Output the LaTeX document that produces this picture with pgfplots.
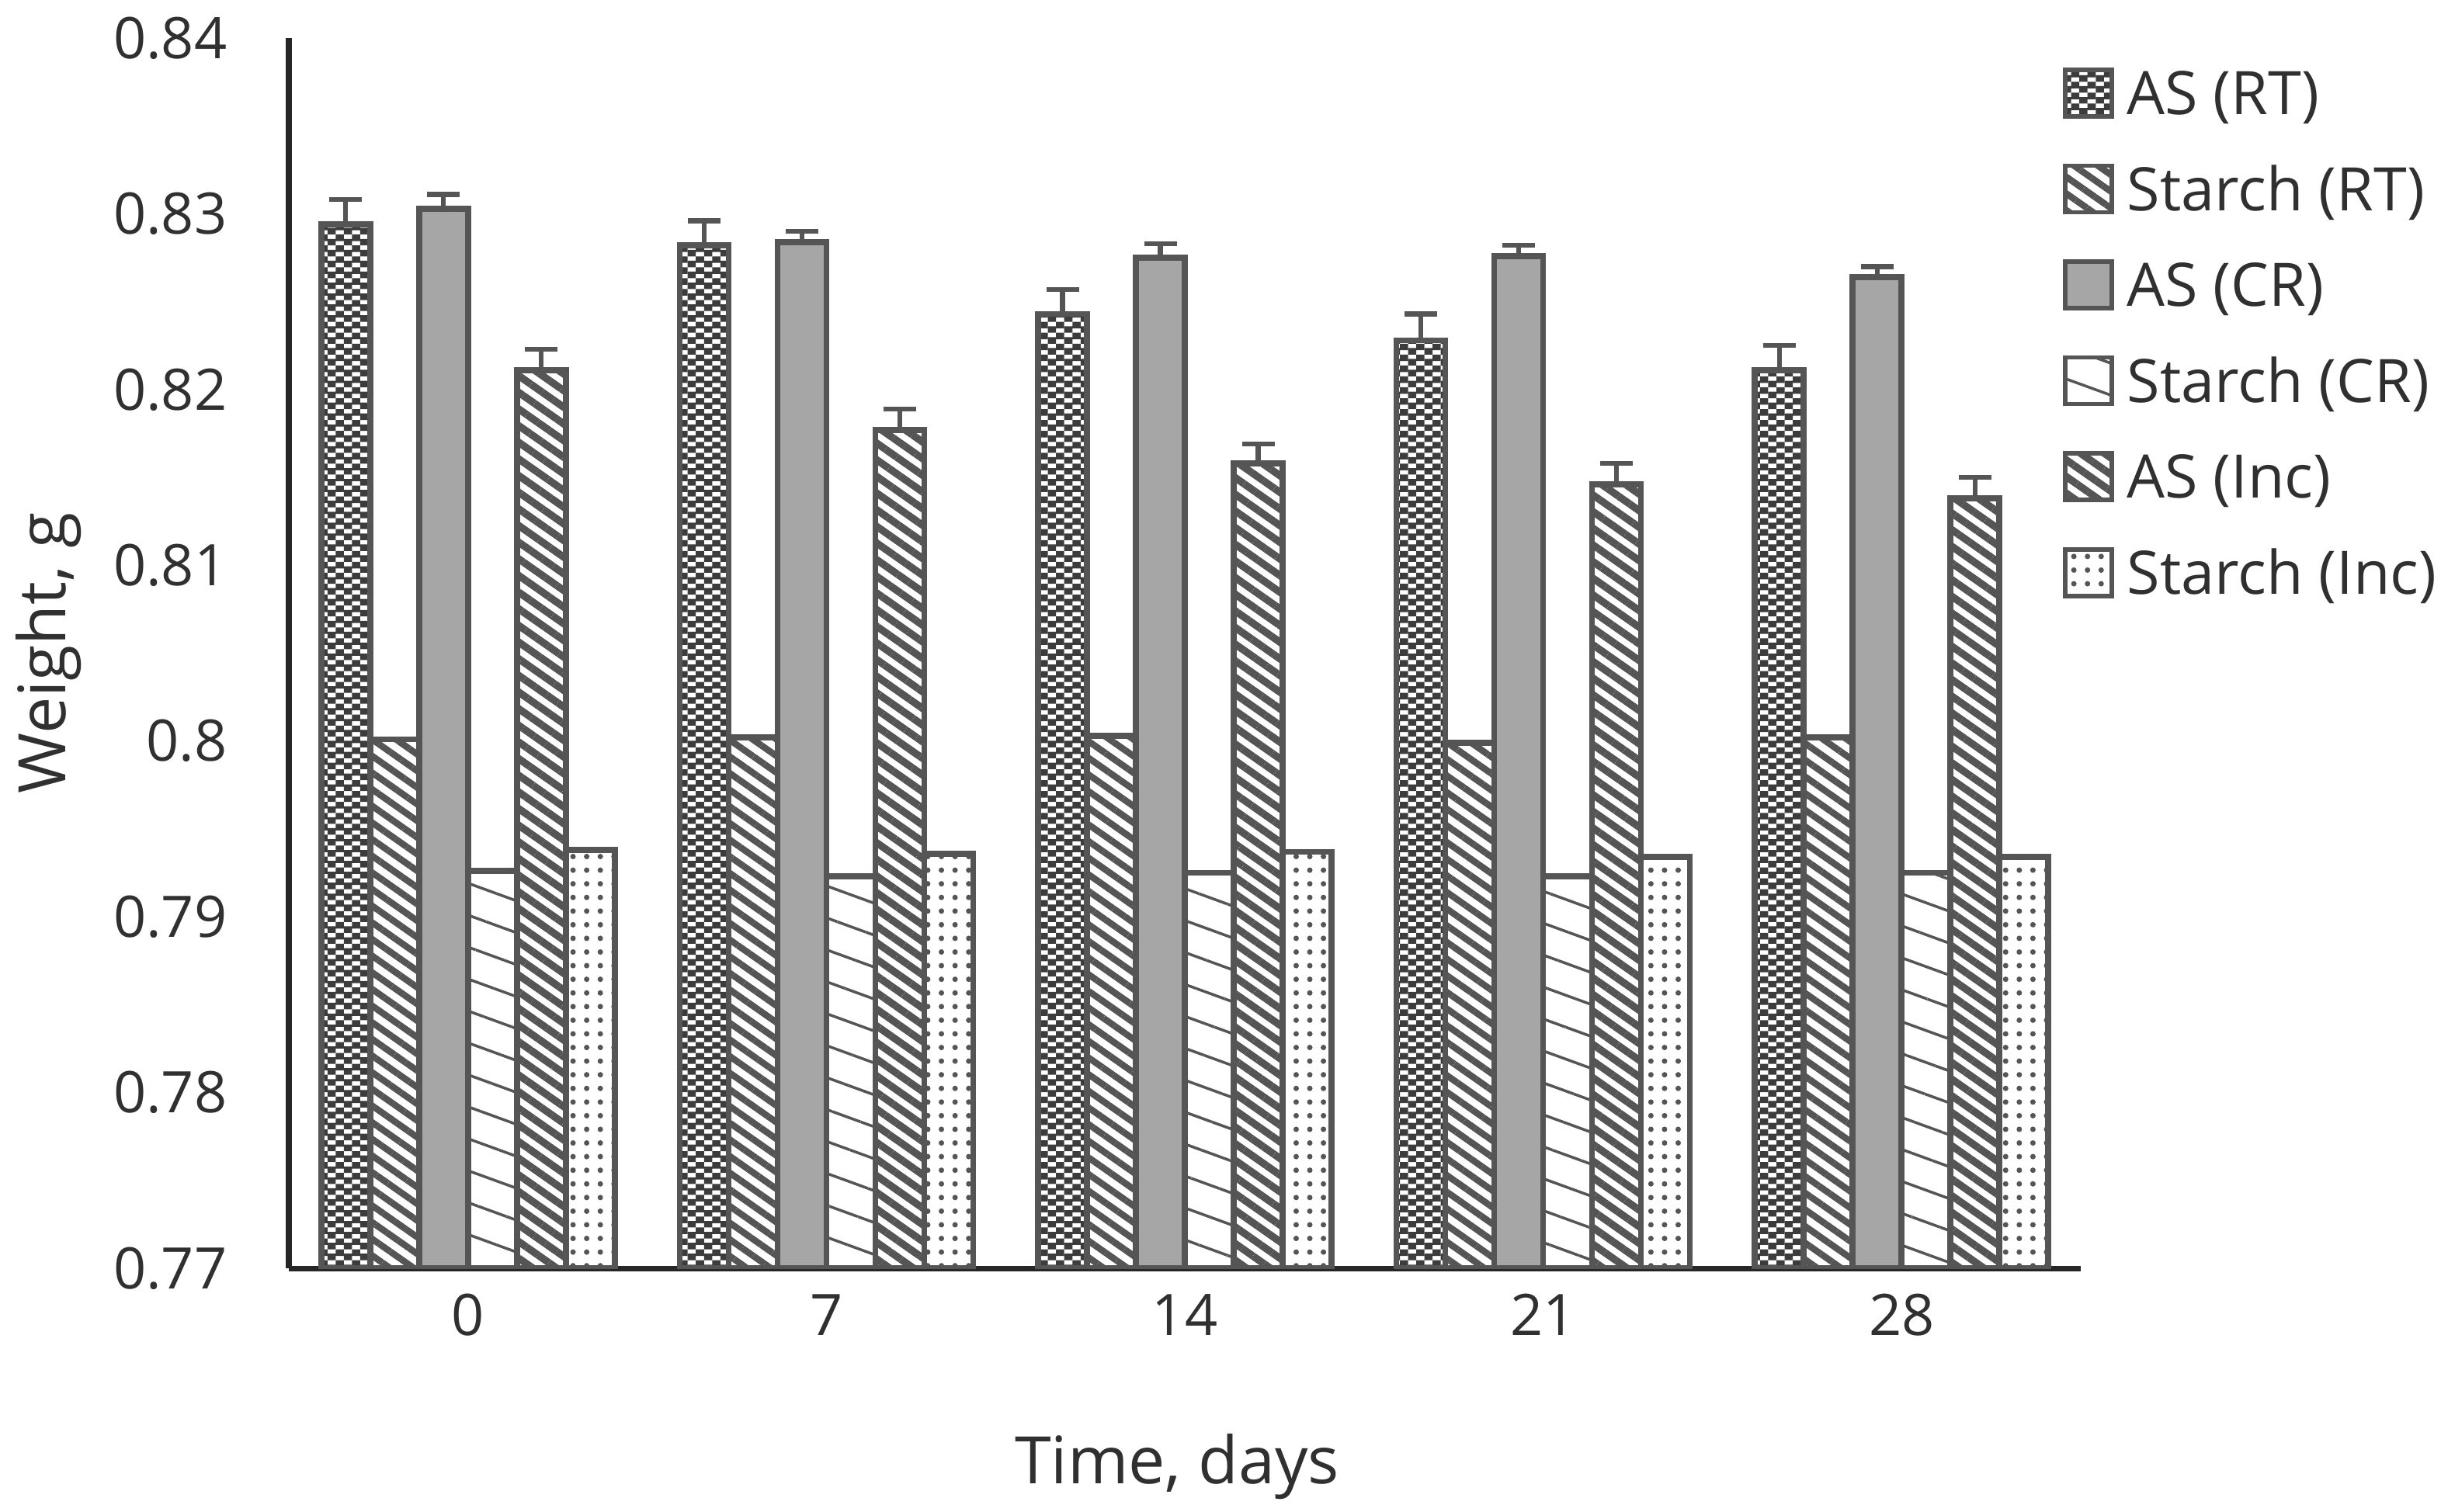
\documentclass[border=0pt]{standalone}
\usepackage{fontspec}
\setmainfont{Open Sans}
\usepackage{pgfplots}
\pgfplotsset{compat=1.18}
\usetikzlibrary{patterns,patterns.meta}
\definecolor{bard}{HTML}{555555}
\definecolor{chk}{HTML}{3C3C3C}
\definecolor{crfill}{HTML}{A6A6A6}
\definecolor{txt}{HTML}{303030}
\definecolor{axl}{HTML}{262626}
\pgfdeclarepatternformonly{smallcheck}{\pgfqpoint{-0.1pt}{-0.1pt}}{\pgfqpoint{6.1pt}{4.1pt}}{\pgfqpoint{6pt}{4pt}}{%
  \pgfpathrectangle{\pgfqpoint{0pt}{0pt}}{\pgfqpoint{3pt}{2pt}}%
  \pgfpathrectangle{\pgfqpoint{3pt}{2pt}}{\pgfqpoint{3pt}{2pt}}%
  \pgfpathrectangle{\pgfqpoint{0pt}{1.6pt}}{\pgfqpoint{6pt}{0.8pt}}%
  \pgfusepath{fill}}
\pgfplotsset{
  errs/.style={error bars/.cd, y dir=plus, y explicit,
    error bar style={line width=1.8pt, draw=bard},
    error mark options={rotate=90, line width=1.8pt, mark size=0.21cm, draw=bard}},
  barst/.style={draw=bard, line width=2.2pt},
}
\begin{document}
\begin{tikzpicture}
\path[use as bounding box] (0,0) rectangle (31.44cm,19.47cm);
\begin{axis}[
  at={(3.72cm,3.13cm)}, anchor=south west,
  scale only axis, width=23.08cm, height=15.85cm,
  xmin=-0.5, xmax=4.5, ymin=0.77, ymax=0.84,
  axis lines=left,
  axis line style={-, draw=axl, line width=2pt},
  ytick={0.77,0.78,0.79,0.8,0.81,0.82,0.83,0.84},
  xtick={0,1,2,3,4}, xticklabels={0,7,14,21,28},
  major tick length=0pt,
  /pgf/number format/assume math mode=true,
  yticklabel style={/pgf/number format/fixed, /pgf/number format/precision=2, anchor=east, inner sep=0pt, xshift=-0.79cm},
  xticklabel style={anchor=center, inner sep=0pt, yshift=-0.60cm},
  tick label style={font=\fontsize{21}{25}\selectfont, text=txt},
  xlabel={Time, days}, ylabel={Weight, g},
  label style={font=\fontsize{24}{28}\selectfont, text=txt},
  xlabel style={at={(axis description cs:0.4957,-0.161)}, anchor=center},
  ylabel style={at={(axis description cs:-0.134,0.5)}, anchor=center},
  ybar=0pt, bar width=0.63cm,
  every axis plot post/.append style={legend image code/.code={\draw[#1, line width=1.6pt] (0cm,-0.3cm) rectangle (0.6cm,0.3cm);}},
  legend cell align=left,
  legend style={draw=none, fill=none, inner sep=0pt, outer sep=0pt,
    at={(axis description cs:0.990,0.9943)}, anchor=north west,
    column sep=0.17cm, row sep=0pt,
    font=\fontsize{22}{26}\selectfont, text=txt,
    nodes={inner sep=0pt, text height=0.895cm, text depth=0.341cm}},
]
% AS (RT)
\addplot[barst, pattern=smallcheck, pattern color=chk, errs]
  coordinates {(0,0.8294) +- (0,0.0014) (1,0.8282) +- (0,0.0014) (2,0.8243) +- (0,0.0014) (3,0.8228) +- (0,0.0015) (4,0.8211) +- (0,0.0014)};
% Starch (RT)
\addplot[barst, pattern={Lines[angle=-35,distance=5pt,line width=2.4pt]}, pattern color=bard]
  coordinates {(0,0.8001) (1,0.8002) (2,0.8003) (3,0.7999) (4,0.8002)};
% AS (CR)
\addplot[barst, fill=crfill, errs]
  coordinates {(0,0.8303) +- (0,0.0008) (1,0.8284) +- (0,0.0006) (2,0.8275) +- (0,0.0008) (3,0.8276) +- (0,0.0006) (4,0.8264) +- (0,0.0006)};
% Starch (CR)
\addplot[barst, pattern={Lines[angle=-20,distance=11pt,line width=1pt]}, pattern color=bard]
  coordinates {(0,0.7926) (1,0.7923) (2,0.7925) (3,0.7923) (4,0.7925)};
% AS (Inc)
\addplot[barst, pattern={Lines[angle=-35,distance=5pt,line width=2.7pt]}, pattern color=bard, errs]
  coordinates {(0,0.8211) +- (0,0.0012) (1,0.8177) +- (0,0.0012) (2,0.8158) +- (0,0.0011) (3,0.8146) +- (0,0.0012) (4,0.8138) +- (0,0.0012)};
% Starch (Inc)
\addplot[barst, pattern={Dots[distance=5pt,radius=1pt]}, pattern color=bard]
  coordinates {(0,0.7938) (1,0.7936) (2,0.7937) (3,0.7934) (4,0.7934)};
\legend{AS (RT), Starch (RT), AS (CR), Starch (CR), AS (Inc), Starch (Inc)}
\end{axis}
\end{tikzpicture}
\end{document}
